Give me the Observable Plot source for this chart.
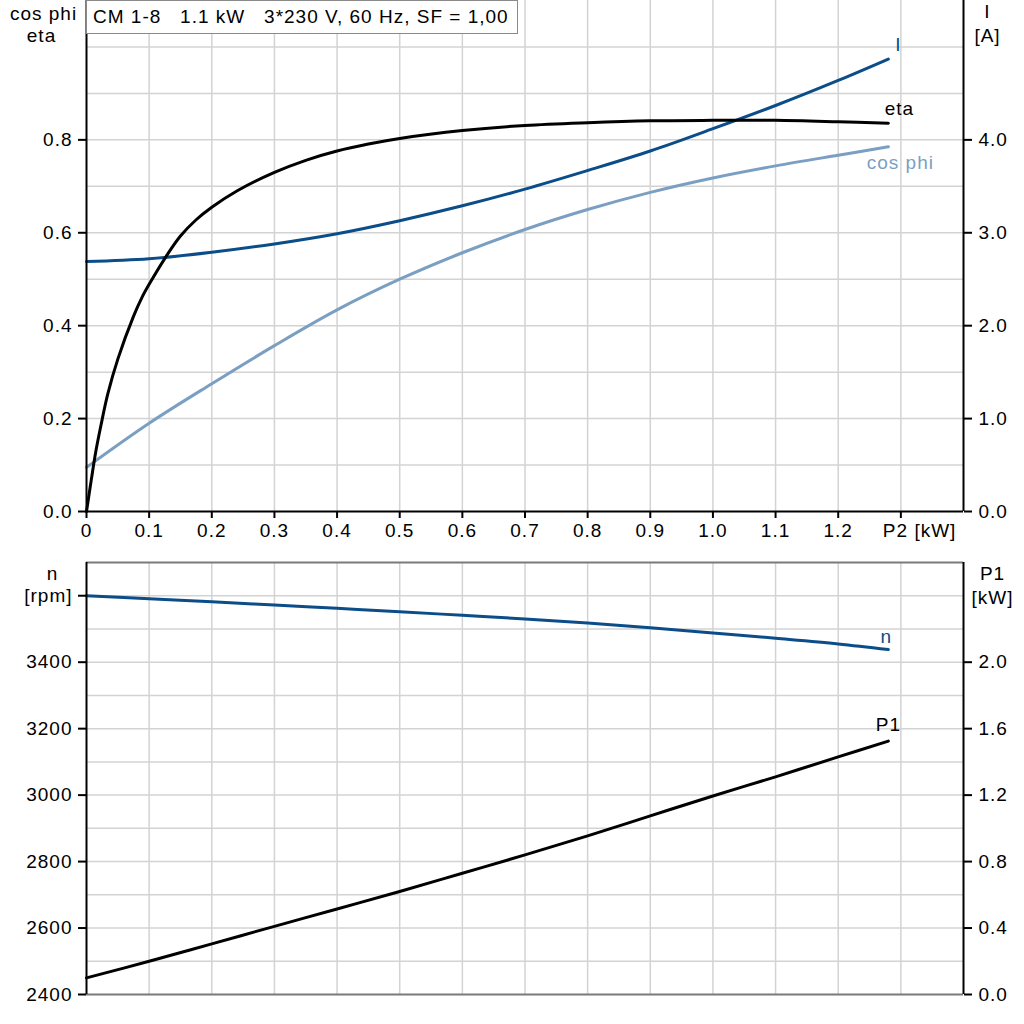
<!DOCTYPE html>
<html><head><meta charset="utf-8">
<script src="https://cdn.jsdelivr.net/npm/d3@7"></script>
<script src="https://cdn.jsdelivr.net/npm/@observablehq/plot@0.6"></script>
<style>
body{margin:0;background:#fff;}
#wrap{position:relative;width:1024px;height:1024px;font-family:"Liberation Sans",Arial,sans-serif;}
#wrap svg{display:block;}
#wrap svg text{letter-spacing:1px;}
#title{position:absolute;left:86px;top:0;width:432px;height:34px;border:1px solid #8a8a8a;box-sizing:border-box;background:#fff;font-size:19px;letter-spacing:1px;line-height:31px;padding-left:6px;white-space:pre;color:#000;}
</style></head><body><div id="wrap"></div>
<script>
// ---- data (P2 in kW) ----
const etaP2 = [0, 0.0075, 0.015, 0.023, 0.034, 0.05, 0.075, 0.089, 0.1, 0.129, 0.15, 0.175, 0.2, 0.24, 0.3, 0.35, 0.4, 0.45, 0.5, 0.6, 0.7, 0.8, 0.9, 1.0, 1.1, 1.2, 1.28];
const eta   = [0, 0.067, 0.13, 0.185, 0.253, 0.328, 0.42, 0.462, 0.489, 0.553, 0.593, 0.628, 0.655, 0.690, 0.730, 0.756, 0.776, 0.791, 0.803, 0.82, 0.831, 0.837, 0.841, 0.842, 0.842, 0.839, 0.836];
const p2      = [0, 0.1, 0.2, 0.3, 0.4, 0.5, 0.6, 0.7, 0.8, 0.9, 1.0, 1.1, 1.2, 1.28];
const cosPhi  = [0.095, 0.19, 0.275, 0.357, 0.434, 0.50, 0.557, 0.607, 0.650, 0.687, 0.718, 0.744, 0.767, 0.785];
const current = [2.69, 2.72, 2.79, 2.88, 2.99, 3.13, 3.29, 3.47, 3.67, 3.88, 4.12, 4.37, 4.64, 4.87];
const speed   = [3600, 3591, 3582, 3572, 3562, 3552, 3541, 3530, 3518, 3504, 3488, 3472, 3455, 3438];
const p1      = [0.10, 0.20, 0.305, 0.41, 0.515, 0.62, 0.73, 0.84, 0.955, 1.075, 1.195, 1.31, 1.43, 1.525];

// ---- ticks ----
const xTicks = [0, 0.1, 0.2, 0.3, 0.4, 0.5, 0.6, 0.7, 0.8, 0.9, 1.0, 1.1, 1.2, 1.3];
const xTickLabels = ["0", "0.1", "0.2", "0.3", "0.4", "0.5", "0.6", "0.7", "0.8", "0.9", "1.0", "1.1", "1.2", "P2 [kW]"];
const xGrid = [0.1, 0.2, 0.3, 0.4, 0.5, 0.6, 0.7, 0.8, 0.9, 1.0, 1.1, 1.2, 1.3];
const etaTicks = [0, 0.2, 0.4, 0.6, 0.8];
const etaGrid = [0.1, 0.2, 0.3, 0.4, 0.5, 0.6, 0.7, 0.8, 0.9, 1.0];
const iTicks = [0, 1, 2, 3, 4];
const nTicks = [2400, 2600, 2800, 3000, 3200, 3400, 3600];
const nTickLabels = ["2400", "2600", "2800", "3000", "3200", "3400", "[rpm]"];
const nGrid = [2500, 2600, 2700, 2800, 2900, 3000, 3100, 3200, 3300, 3400, 3500, 3600];
const p1Ticks = [0, 0.4, 0.8, 1.2, 1.6, 2.0];

const titleText = "CM 1-8   1.1 kW   3*230 V, 60 Hz, SF = 1,00";

// secondary axis conversions
const I_SCALE = 0.2;                 // 4.0 A <-> 0.8
const P1_TO_N = v => 2400 + 500 * v; // 2.0 kW <-> 3400 rpm
const N_TO_P1 = v => (v - 2400) / 500;

const DARK = "#0b4d88", LIGHT = "#7a9fc3", GRID = "#d3d3d3";
const CURVE = "catmull-rom";
const plotStyle = {fontFamily: "'Liberation Sans', Arial, sans-serif", fontSize: "19px", color: "black", background: "white", overflow: "visible"};
const lab = {fill: "black", textAnchor: "middle", lineAnchor: "middle"};

const etaData = etaP2.map((x, i) => ({x, y: eta[i]}));
const cosData = p2.map((x, i) => ({x, y: cosPhi[i]}));
const iData = p2.map((x, i) => ({x, y: current[i] * I_SCALE}));
const nData = p2.map((x, i) => ({x, y: speed[i]}));
const p1Data = p2.map((x, i) => ({x, y: P1_TO_N(p1[i])}));

const topPlot = Plot.plot({
  width: 1024, height: 550,
  marginLeft: 86, marginRight: 61, marginTop: 0, marginBottom: 39,
  x: {domain: [0, 1.4]},
  y: {domain: [0, 1.1]},
  style: plotStyle,
  marks: [
    Plot.gridX(xGrid, {stroke: GRID, strokeOpacity: 1, strokeWidth: 1.5}),
    Plot.gridY(etaGrid, {stroke: GRID, strokeOpacity: 1, strokeWidth: 1.5}),
    Plot.line(cosData, {x: "x", y: "y", stroke: LIGHT, strokeWidth: 3, curve: CURVE}),
    Plot.line(iData, {x: "x", y: "y", stroke: DARK, strokeWidth: 3, curve: CURVE}),
    Plot.line(etaData, {x: "x", y: "y", stroke: "black", strokeWidth: 3, curve: CURVE}),
    Plot.ruleX([0, 1.4], {stroke: "black", strokeWidth: 2}),
    Plot.ruleY([0], {stroke: "black", strokeWidth: 2}),
    Plot.axisX(xTicks, {anchor: "bottom", tickSize: 7, text: null, stroke: "black", strokeWidth: 2, label: null}),
    Plot.text(xTicks.slice(0, -1), {x: d => d, y: 0, text: (d, i) => xTickLabels[i], dy: 19, fill: "black"}),
    Plot.text([xTicks[xTicks.length - 1]], {x: d => d, y: 0, text: () => xTickLabels[xTickLabels.length - 1], dy: 19, dx: -18, textAnchor: "start", fill: "black"}),
    Plot.axisY(etaTicks, {anchor: "left", tickSize: 8, tickPadding: 6, tickFormat: d => d.toFixed(1), stroke: "black", strokeWidth: 2, label: null}),
    Plot.axisY(iTicks.map(v => v * I_SCALE), {anchor: "right", tickSize: 8, tickPadding: 7, tickFormat: d => (d / I_SCALE).toFixed(1), stroke: "black", strokeWidth: 2, label: null}),
    Plot.text(["cos phi"], {...lab, frameAnchor: "top-left", dx: -43, dy: 13}),
    Plot.text(["eta"], {...lab, frameAnchor: "top-left", dx: -45, dy: 35}),
    Plot.text(["I"], {...lab, frameAnchor: "top-right", dx: 24, dy: 11}),
    Plot.text(["[A]"], {...lab, frameAnchor: "top-right", dx: 24, dy: 35}),
    Plot.text([iData[iData.length - 1]], {x: "x", y: "y", text: () => "I", dx: 10, dy: -14, fill: DARK}),
    Plot.text([etaData[etaData.length - 1]], {x: "x", y: "y", text: () => "eta", dx: 11, dy: -14, fill: "black"}),
    Plot.text([cosData[cosData.length - 1]], {x: "x", y: "y", text: () => "cos phi", dx: 12, dy: 16, fill: LIGHT})
  ]
});

const bottomPlot = Plot.plot({
  width: 1024, height: 474,
  marginLeft: 86, marginRight: 61, marginTop: 12, marginBottom: 30,
  x: {domain: [0, 1.4], axis: null},
  y: {domain: [2400, 3700]},
  style: plotStyle,
  marks: [
    Plot.gridX(xGrid, {stroke: GRID, strokeOpacity: 1, strokeWidth: 1.5}),
    Plot.gridY(nGrid, {stroke: GRID, strokeOpacity: 1, strokeWidth: 1.5}),
    Plot.ruleY([2400, 3700], {stroke: "#7a7a7a", strokeWidth: 2}),
    Plot.line(p1Data, {x: "x", y: "y", stroke: "black", strokeWidth: 3, curve: CURVE}),
    Plot.line(nData, {x: "x", y: "y", stroke: DARK, strokeWidth: 3, curve: CURVE}),
    Plot.ruleX([0, 1.4], {stroke: "black", strokeWidth: 2}),
    Plot.axisY(nTicks, {anchor: "left", tickSize: 8, tickPadding: 6, tickFormat: (d) => nTickLabels[nTicks.indexOf(d)], stroke: "black", strokeWidth: 2, label: null}),
    Plot.axisY(p1Ticks.map(P1_TO_N), {anchor: "right", tickSize: 8, tickPadding: 7, tickFormat: d => N_TO_P1(d).toFixed(1), stroke: "black", strokeWidth: 2, label: null}),
    Plot.text(["n"], {...lab, frameAnchor: "top-left", dx: -34, dy: 11}),
    Plot.text(["P1"], {...lab, frameAnchor: "top-right", dx: 29, dy: 11}),
    Plot.text(["[kW]"], {...lab, frameAnchor: "top-right", dx: 29, dy: 35}),
    Plot.text([nData[nData.length - 1]], {x: "x", y: "y", text: () => "n", dx: -2, dy: -13, fill: DARK}),
    Plot.text([p1Data[p1Data.length - 1]], {x: "x", y: "y", text: () => "P1", dx: 0, dy: -16, fill: "black"})
  ]
});

const wrap = document.getElementById("wrap");
wrap.appendChild(topPlot);
wrap.appendChild(bottomPlot);
const t = document.createElement("div");
t.id = "title";
t.textContent = titleText;
wrap.appendChild(t);
</script>
</body></html>
